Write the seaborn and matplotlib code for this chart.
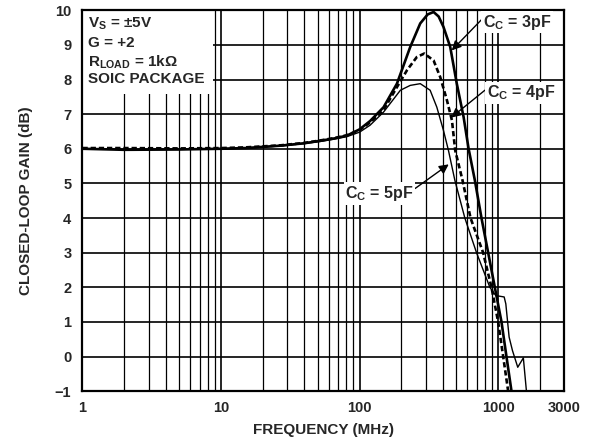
import pandas as pd
import seaborn as sns
import matplotlib.pyplot as plt
from matplotlib.patches import Rectangle
from matplotlib.ticker import FixedLocator, FixedFormatter, NullFormatter

# closed-loop gain vs frequency
freq_3pf = [1, 2, 5, 10, 15, 27, 40, 52, 66, 81, 100, 119, 149, 186, 232, 274, 310, 342,
            372, 403, 451, 503, 563, 612, 679, 758, 847, 946, 1057, 1148, 1248]
gain_3pf = [6.0, 5.97, 5.98, 6.0, 6.02, 6.09, 6.16, 6.23, 6.3, 6.38, 6.56, 6.8, 7.2, 7.88,
            8.94, 9.62, 9.88, 9.95, 9.82, 9.52, 8.94, 7.88, 6.92, 6.0, 5.09, 4.0, 3.0, 2.0,
            1.0, 0.0, -1.0]

freq_4pf = [1, 2, 5, 10, 15, 27, 40, 52, 66, 81, 100, 119, 149, 186, 220, 259, 293, 342,
            382, 427, 464, 490, 553, 632, 779, 895, 1000, 1087, 1181]
gain_4pf = [6.02, 6.02, 6.01, 6.02, 6.04, 6.1, 6.17, 6.24, 6.31, 6.39, 6.54, 6.76, 7.12, 7.78,
            8.27, 8.65, 8.75, 8.55, 8.07, 7.4, 6.82, 5.95, 5.09, 4.0, 3.0, 2.0, 1.0, 0.0, -1.0]

freq_5pf = [1, 2, 5, 10, 15, 27, 40, 52, 66, 81, 100, 119, 149, 197, 232, 274, 323, 361,
            403, 438, 487, 575, 698, 871, 962, 1105, 1136, 1200, 1269, 1385, 1520, 1600]
gain_5pf = [6.0, 5.98, 5.98, 6.0, 6.02, 6.08, 6.15, 6.21, 6.28, 6.35, 6.48, 6.68, 7.06, 7.69,
            7.83, 7.88, 7.69, 7.2, 6.53, 5.95, 5.09, 4.0, 3.0, 2.0, 1.76, 1.72, 1.52, 0.56,
            0.17, -0.31, -0.04, -1.0]

x_ticks = [1, 10, 100, 1000, 3000]
x_tick_labels = ['1', '10', '100', '1000', '3000']
x_minor = [2, 3, 4, 5, 6, 7, 8, 9, 20, 30, 40, 50, 60, 70, 80, 90,
           200, 300, 400, 500, 600, 700, 800, 900, 2000]
y_ticks = list(range(-1, 11))

info_lines = ['V$_\\mathrm{S}$ = ±5V', 'G = +2', 'R$_\\mathrm{LOAD}$ = 1kΩ', 'SOIC PACKAGE']

sns.set_style('white')
plt.rcParams['font.family'] = ['Liberation Sans', 'DejaVu Sans']
plt.rcParams['font.weight'] = 'bold'
plt.rcParams['mathtext.fontset'] = 'custom'
plt.rcParams['mathtext.rm'] = 'Liberation Sans:bold'
plt.rcParams['mathtext.it'] = 'Liberation Sans:bold'
plt.rcParams['mathtext.bf'] = 'Liberation Sans:bold'

fig = plt.figure(figsize=(5.89, 4.46), dpi=100)
ax = fig.add_axes([0.140, 0.123, 0.818, 0.854])

df3 = pd.DataFrame({'freq': freq_3pf, 'gain': gain_3pf})
df4 = pd.DataFrame({'freq': freq_4pf, 'gain': gain_4pf})
df5 = pd.DataFrame({'freq': freq_5pf, 'gain': gain_5pf})
sns.lineplot(data=df3, x='freq', y='gain', color='black', lw=1.9, ax=ax)
sns.lineplot(data=df4, x='freq', y='gain', color='black', lw=1.9,
             linestyle=(0, (2.0, 1.1)), ax=ax)
sns.lineplot(data=df5, x='freq', y='gain', color='black', lw=1.0, ax=ax)

ax.set_xscale('log')
ax.set_xlim(1, 3000)
ax.set_ylim(-1, 10)
ax.xaxis.set_major_locator(FixedLocator(x_ticks))
ax.xaxis.set_major_formatter(FixedFormatter(x_tick_labels))
ax.xaxis.set_minor_locator(FixedLocator(x_minor))
ax.xaxis.set_minor_formatter(NullFormatter())
ax.set_yticks(y_ticks)
ax.tick_params(which='both', length=0, labelsize=10.5)
ax.tick_params(axis='x', pad=7)
ax.tick_params(axis='y', pad=8)

ax.set_axisbelow(True)
ax.grid(which='major', color='black', lw=1.2)
ax.grid(which='minor', axis='x', color='black', lw=0.9)
for s in ax.spines.values():
    s.set_color('black')
    s.set_linewidth(1.6)

ax.set_xlabel('FREQUENCY (MHz)', fontsize=11, fontweight='bold', labelpad=6)
ax.set_ylabel('CLOSED-LOOP GAIN (dB)', fontsize=11, fontweight='bold', labelpad=16)

# white panel behind the conditions text
ax.add_patch(Rectangle((0, 0.78), 0.27, 0.22, transform=ax.transAxes,
                       facecolor='white', edgecolor='none', zorder=1))
for yy, s in zip([0.955, 0.904, 0.851, 0.809], info_lines):
    ax.text(0.011, yy, s, transform=ax.transAxes, fontsize=11, fontweight='bold',
            va='baseline', zorder=3)

box = dict(boxstyle='square,pad=0.1', fc='white', ec='none')
arrow = dict(arrowstyle='-|>', color='black', lw=1.0, mutation_scale=14,
             shrinkA=0, shrinkB=0, relpos=(0, 0.7))
ax.annotate('C$_\\mathrm{C}$ = 3pF', xy=(462, 8.84), xytext=(776, 9.66), ha='left', va='center',
            fontsize=11.5, fontweight='bold', bbox=box, arrowprops=arrow, zorder=4)
ax.annotate('C$_\\mathrm{C}$ = 4pF', xy=(458, 6.9), xytext=(825, 7.62), ha='left', va='center',
            fontsize=11.5, fontweight='bold', bbox=box, arrowprops=arrow, zorder=4)
arrow5 = dict(arrow, relpos=(1, 0.7))
ax.annotate('C$_\\mathrm{C}$ = 5pF', xy=(440, 5.55), xytext=(245, 4.71), ha='right', va='center',
            fontsize=11.5, fontweight='bold', bbox=box, arrowprops=arrow5, zorder=4)

plt.savefig('out.png', dpi=100)
